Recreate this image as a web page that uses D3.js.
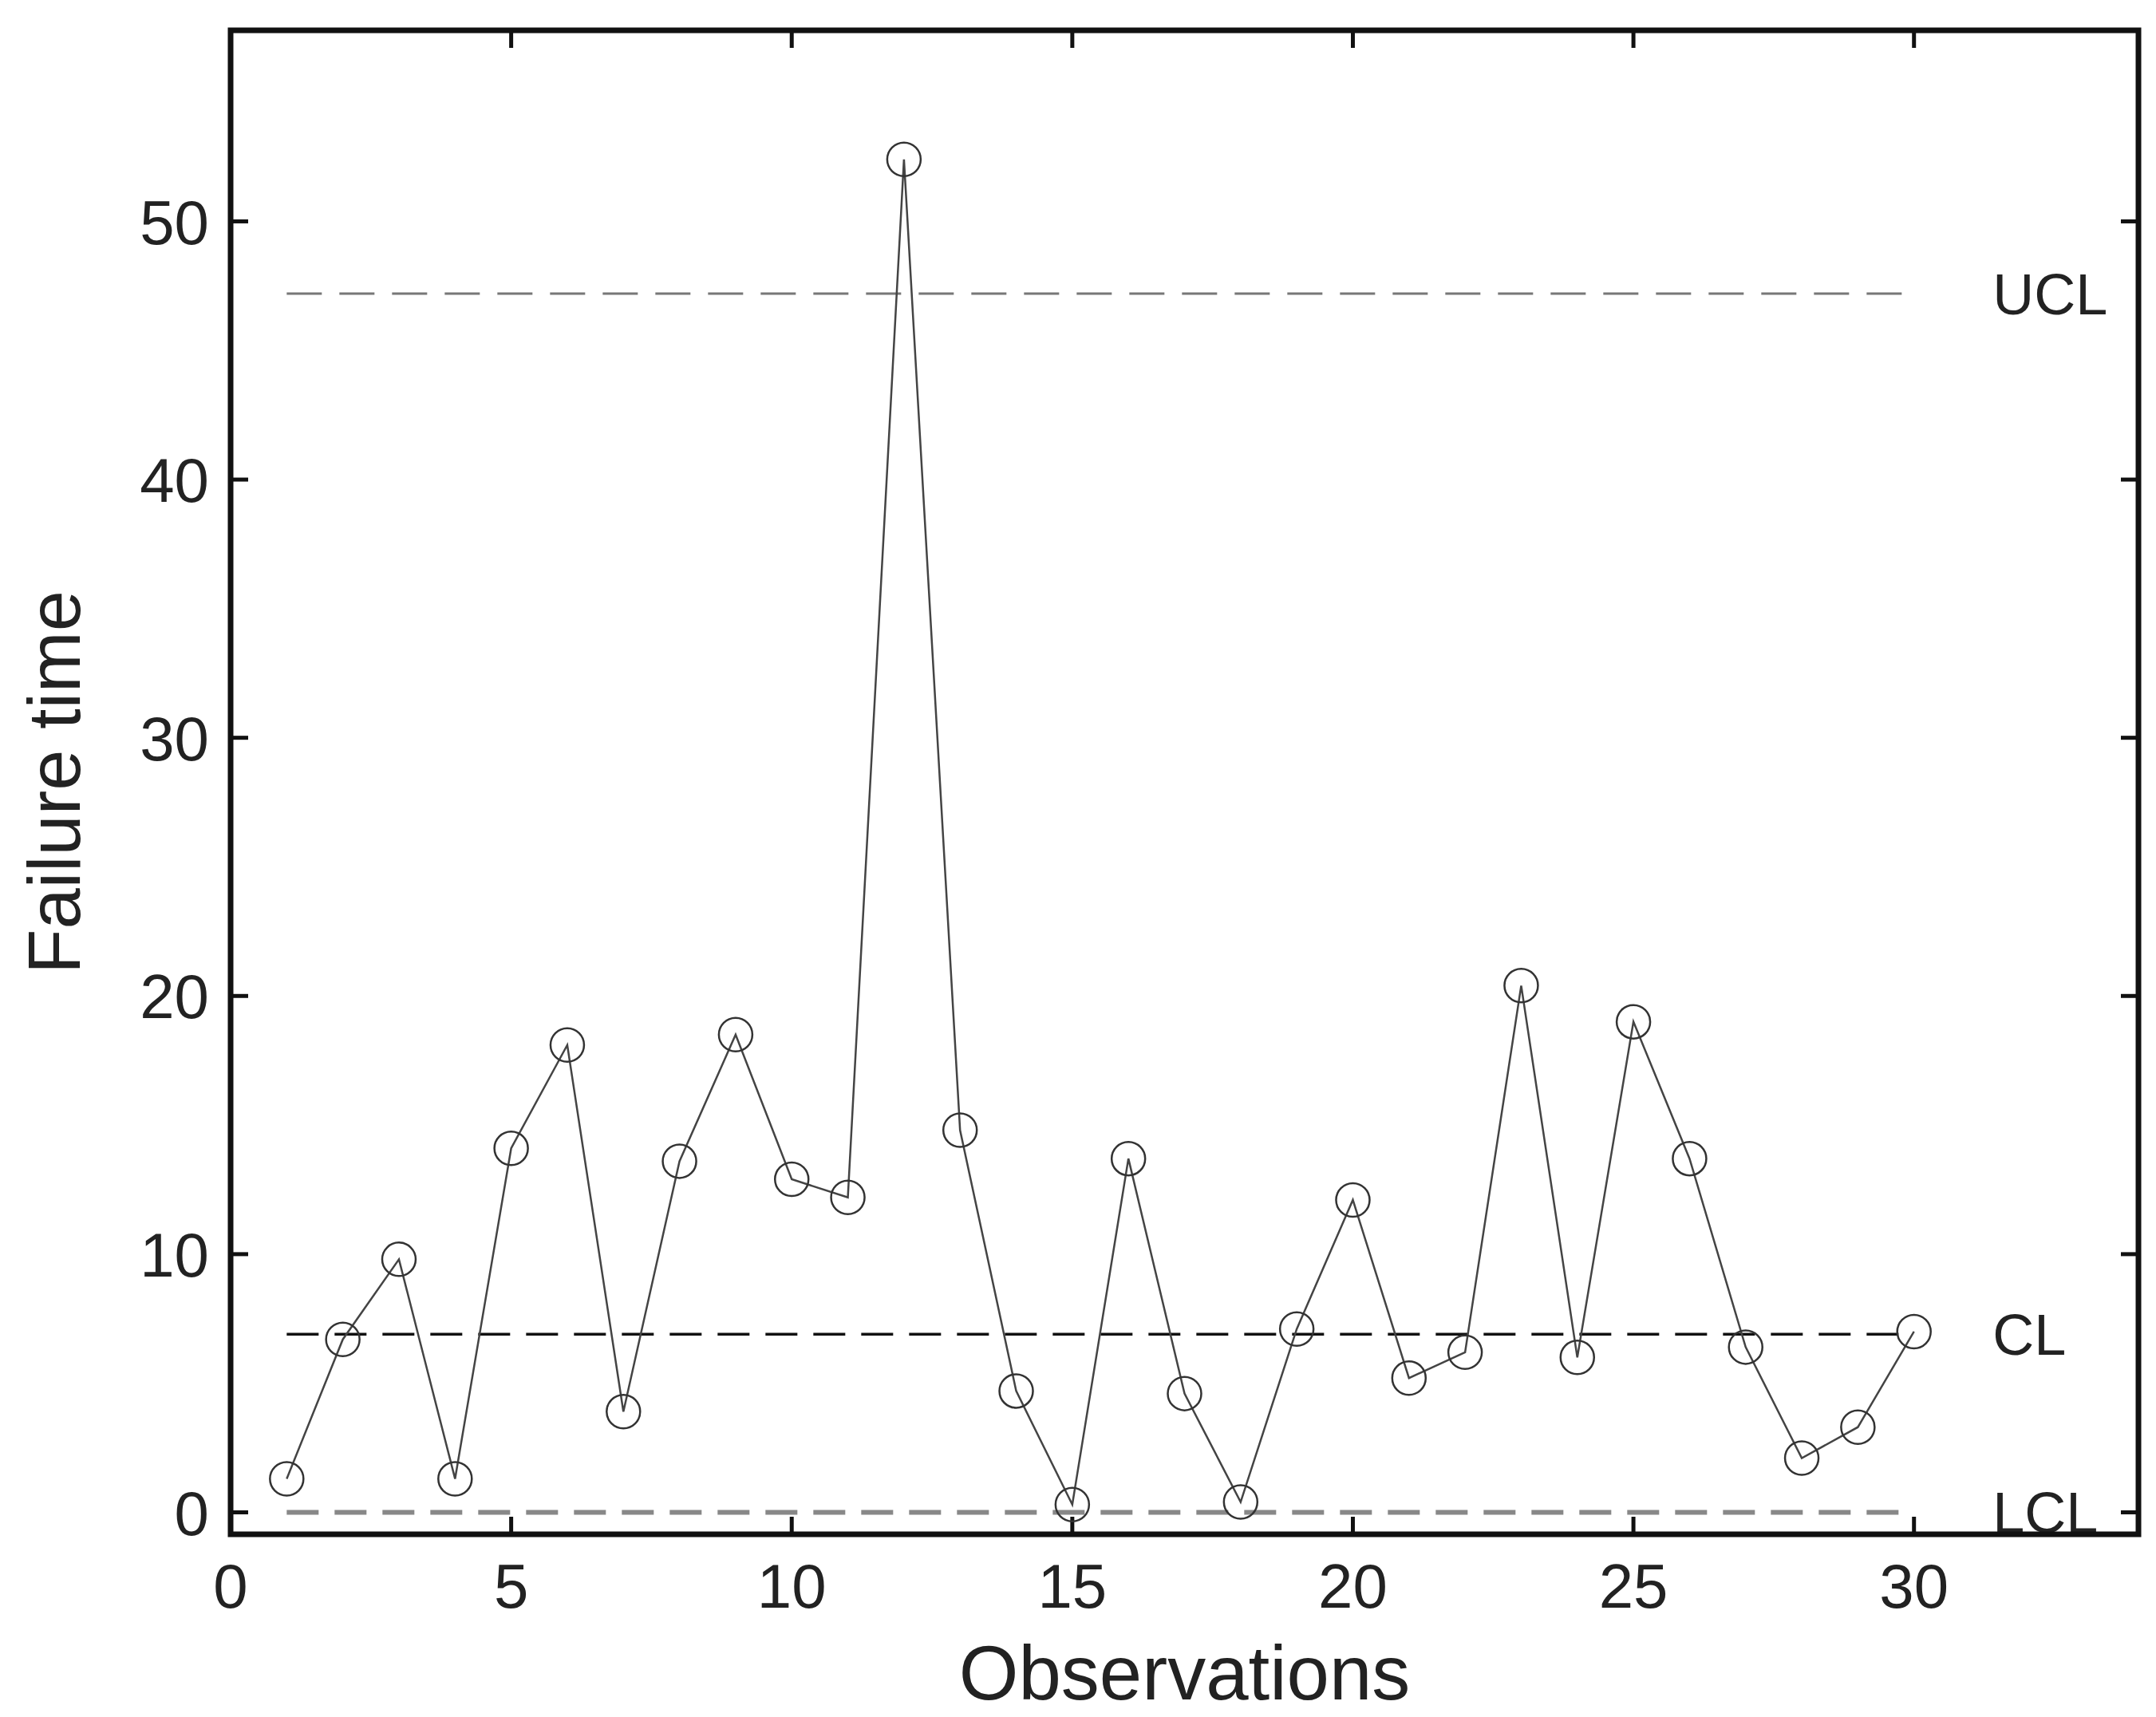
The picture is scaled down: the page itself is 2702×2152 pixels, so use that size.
<!DOCTYPE html>
<html><head><meta charset="utf-8">
<script src="https://cdn.jsdelivr.net/npm/d3@7"></script>
<style>body{margin:0;background:#fff}</style></head>
<body><svg id="c" width="2702" height="2152"></svg>
<script>
const obs = d3.range(1, 31);
const failureTime = [1.3,6.7,9.8,1.3,14.1,18.1,3.9,13.6,18.5,12.9,12.2,52.4,14.8,4.7,0.3,13.7,4.6,0.4,7.1,12.1,5.2,6.2,20.4,6.0,19.0,13.7,6.4,2.1,3.3,7.0];
const xTicks = [0,5,10,15,20,25,30];
const yTicks = [0,10,20,30,40,50];
const limits = [{name:"UCL", v:47.2},{name:"CL", v:6.9},{name:"LCL", v:0}];

const svg = d3.select("#c");
const L=289, R=2680, T=38, B=1923;
const x = d3.scaleLinear().domain([0,34]).range([L,R]);
const y = d3.scaleLinear().domain([-0.85,57.4]).range([B,T]);
const font = "Liberation Sans, Arial, sans-serif";
const fs = 78;

const tl = 22;
const g = svg.append("g").attr("stroke","#111").attr("stroke-width",5);
xTicks.forEach(t=>{
  g.append("line").attr("x1",x(t)).attr("x2",x(t)).attr("y1",B).attr("y2",B-tl);
  g.append("line").attr("x1",x(t)).attr("x2",x(t)).attr("y1",T).attr("y2",T+tl);
});
yTicks.forEach(t=>{
  g.append("line").attr("x1",L).attr("x2",L+tl).attr("y1",y(t)).attr("y2",y(t));
  g.append("line").attr("x1",R).attr("x2",R-tl).attr("y1",y(t)).attr("y2",y(t));
});

const styles = {UCL:{c:"#777",w:3,d:"44 22"}, CL:{c:"#111",w:3.5,d:"40 20"}, LCL:{c:"#888",w:6,d:"40 20"}};
limits.forEach(l=>{
  const s = styles[l.name];
  svg.append("line").attr("x1",x(1)).attr("x2",x(30)).attr("y1",y(l.v)).attr("y2",y(l.v))
    .attr("stroke",s.c).attr("stroke-width",s.w).attr("stroke-dasharray",s.d);
  svg.append("text").attr("x",x(31.4)).attr("y",y(l.v)).attr("dy","0.36em")
    .attr("font-family",font).attr("font-size",fs-6).attr("fill","#222").text(l.name);
});

const line = d3.line().x((d,i)=>x(obs[i])).y(d=>y(d));
svg.append("path").datum(failureTime).attr("d",line).attr("fill","none").attr("stroke","#444").attr("stroke-width",2.5);
svg.selectAll("circle.m").data(failureTime).join("circle").attr("class","m")
  .attr("cx",(d,i)=>x(obs[i])).attr("cy",d=>y(d)).attr("r",21)
  .attr("fill","none").attr("stroke","#333").attr("stroke-width",2.5);

svg.append("rect").attr("x",L).attr("y",T).attr("width",R-L).attr("height",B-T)
  .attr("fill","none").attr("stroke","#111").attr("stroke-width",7);

xTicks.forEach(t=>svg.append("text").attr("x",x(t)).attr("y",2015).attr("text-anchor","middle")
  .attr("font-family",font).attr("font-size",fs).attr("fill","#222").text(t));
yTicks.forEach(t=>svg.append("text").attr("x",262).attr("y",y(t)).attr("dy","0.36em").attr("text-anchor","end")
  .attr("font-family",font).attr("font-size",fs).attr("fill","#222").text(t));

svg.append("text").attr("x",(L+R)/2).attr("y",2130).attr("text-anchor","middle")
  .attr("font-family",font).attr("font-size",96).attr("fill","#222").text("Observations");
svg.append("text").attr("transform",`translate(100,${(T+B)/2}) rotate(-90)`).attr("text-anchor","middle")
  .attr("font-family",font).attr("font-size",92).attr("fill","#222").text("Failure time");
</script></body></html>
